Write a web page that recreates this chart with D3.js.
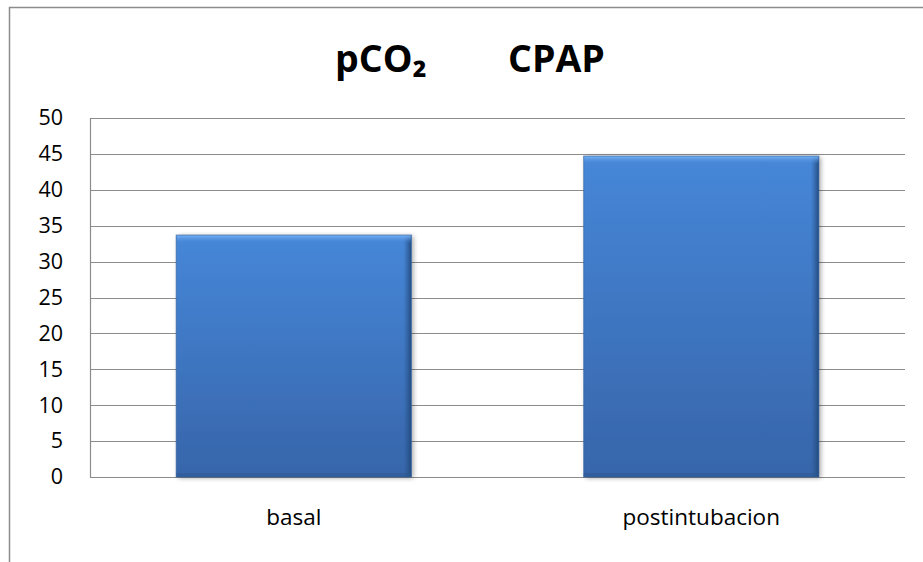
<!DOCTYPE html>
<html><head><meta charset="utf-8">
<script src="https://cdn.jsdelivr.net/npm/d3@7"></script>
<style>body{margin:0;background:#fff}svg{display:block}text{font-family:"Open Sans",sans-serif}</style>
</head><body>
<svg id="c" width="923" height="562"></svg>
<script>
const categories = ["basal", "postintubacion"];
const values = [33.7, 44.7];
const yTicks = [0, 5, 10, 15, 20, 25, 30, 35, 40, 45, 50];
const titleParts = ["pCO₂", "CPAP"];

const svg = d3.select("#c");
const m = {left: 90, right: 905, top: 118, bottom: 477};

// chart border (top + left visible)
svg.append("path").attr("d", "M9.5,562 V7.5 H923").attr("fill", "none").attr("stroke", "#8c8c8c").attr("stroke-width", 1.5);

const x = d3.scaleBand().domain(categories).range([m.left, m.right]).paddingInner(0.423).paddingOuter(0.2115);
const y = d3.scaleLinear().domain([0, 50]).range([m.bottom, m.top]);

const defs = svg.append("defs");
const g1 = defs.append("linearGradient").attr("id", "barg").attr("x1", 0).attr("y1", 0).attr("x2", 0).attr("y2", 1);
g1.append("stop").attr("offset", 0).attr("stop-color", "#4687d8");
g1.append("stop").attr("offset", 1).attr("stop-color", "#3765aa");
const g2 = defs.append("linearGradient").attr("id", "edgeR").attr("x1", 0).attr("y1", 0).attr("x2", 1).attr("y2", 0);
g2.append("stop").attr("offset", 0).attr("stop-color", "#2a558e").attr("stop-opacity", 0);
g2.append("stop").attr("offset", 1).attr("stop-color", "#1f4677").attr("stop-opacity", 0.9);
const g3 = defs.append("linearGradient").attr("id", "edgeT").attr("x1", 0).attr("y1", 0).attr("x2", 0).attr("y2", 1);
g3.append("stop").attr("offset", 0).attr("stop-color", "#7ab4f5");
g3.append("stop").attr("offset", 1).attr("stop-color", "#4a8ad8").attr("stop-opacity", 0);
const f = defs.append("filter").attr("id", "sh").attr("x", "-10%").attr("y", "-10%").attr("width", "130%").attr("height", "130%");
f.append("feGaussianBlur").attr("in", "SourceAlpha").attr("stdDeviation", 2.5);
f.append("feOffset").attr("dx", 2).attr("dy", 1).attr("result", "b");
f.append("feComponentTransfer").append("feFuncA").attr("type", "linear").attr("slope", 0.35);
const fm = f.append("feMerge"); fm.append("feMergeNode"); fm.append("feMergeNode").attr("in", "SourceGraphic");

// grid
svg.append("g").selectAll("line").data(yTicks).join("line")
  .attr("x1", m.left).attr("x2", m.right)
  .attr("y1", d => Math.round(y(d)) + 0.5).attr("y2", d => Math.round(y(d)) + 0.5)
  .attr("stroke", "#8c8c8c").attr("stroke-width", 1.2);
svg.append("line").attr("x1", m.left + 0.5).attr("x2", m.left + 0.5).attr("y1", m.top).attr("y2", m.bottom)
  .attr("stroke", "#8c8c8c").attr("stroke-width", 1.2);

// y labels
const ya = d3.axisLeft(y).tickValues(yTicks).tickSize(0).tickPadding(0);
const yg = svg.append("g").attr("transform", `translate(63,0)`).call(ya);
yg.select(".domain").remove();
yg.selectAll("text").attr("font-size", 21.5).attr("fill", "#000").attr("font-family", "Open Sans");

// bars
const bars = svg.append("g").selectAll("g").data(values).join("g");
bars.append("rect").attr("x", (d, i) => x(categories[i])).attr("y", d => y(d))
  .attr("width", x.bandwidth()).attr("height", d => y(0) - y(d))
  .attr("fill", "url(#barg)").attr("filter", "url(#sh)");
bars.append("rect").attr("x", (d, i) => x(categories[i]) + x.bandwidth() - 8).attr("y", d => y(d))
  .attr("width", 8).attr("height", d => y(0) - y(d)).attr("fill", "url(#edgeR)");
bars.append("rect").attr("x", (d, i) => x(categories[i])).attr("y", d => y(d))
  .attr("width", x.bandwidth()).attr("height", 8).attr("fill", "url(#edgeT)");
bars.append("rect").attr("x", (d, i) => x(categories[i])).attr("y", d => y(0) - 4)
  .attr("width", x.bandwidth()).attr("height", 4).attr("fill", "#2c5790").attr("opacity", 0.5);
bars.append("rect").attr("x", (d, i) => x(categories[i])).attr("y", d => y(d))
  .attr("width", x.bandwidth()).attr("height", d => y(0) - y(d))
  .attr("fill", "none").attr("stroke", "#2d5d9a").attr("stroke-width", 1).attr("stroke-opacity", 0.6);

// x labels
const xa = d3.axisBottom(x).tickSize(0).tickPadding(0);
const xg = svg.append("g").attr("transform", `translate(0,509)`).call(xa);
xg.select(".domain").remove();
xg.selectAll("text").attr("font-size", 22.5).attr("fill", "#000").attr("font-family", "Open Sans");

// title
svg.append("text").attr("x", 335).attr("y", 72).attr("font-size", 37.5).attr("font-weight", "bold").text(titleParts[0]);
svg.append("text").attr("x", 508).attr("y", 72).attr("font-size", 37.5).attr("font-weight", "bold").text(titleParts[1]);
</script>
</body></html>
